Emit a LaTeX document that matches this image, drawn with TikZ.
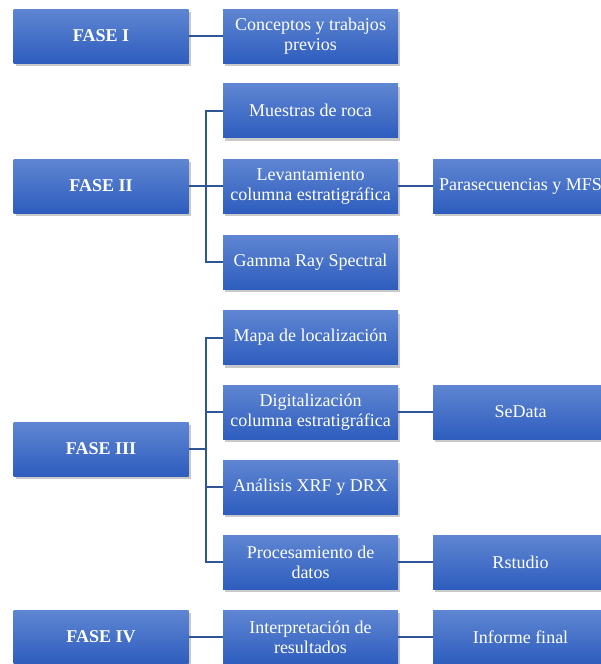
\documentclass[tikz,border=0pt]{standalone}
\usepackage{fontspec}
\setmainfont{Liberation Serif}
\usetikzlibrary{shadows}
\definecolor{btop}{HTML}{5F86D2}
\definecolor{bbot}{HTML}{2E5DBE}
\definecolor{lnk}{HTML}{2F5597}
\tikzset{
  box/.style={rectangle, minimum width=175pt, minimum height=54pt, inner sep=2pt,
    top color=btop, bottom color=bbot, draw=none, text=white, align=center,
    font=\fontsize{18}{20}\selectfont,
    drop shadow={shadow xshift=2pt, shadow yshift=-3pt, opacity=0.3, fill=black!70}},
  fase/.style={box, font=\fontsize{18}{20}\selectfont\bfseries},
  link/.style={draw=lnk, line width=2pt}
}
\begin{document}
\begin{tikzpicture}[x=1pt,y=-1pt]
\useasboundingbox (0,0) rectangle (600,664);
% FASE I
\node[fase] (f1) at (101,36) {FASE I};
\node[box] (c1) at (310.5,36) {Conceptos y trabajos\\previos};
% FASE II
\node[fase] (f2) at (101,186) {FASE II};
\node[box] (m2) at (310.5,110.5) {Muestras de roca};
\node[box] (l2) at (310.5,186) {Levantamiento\\columna estratigráfica};
\node[box] (p2) at (520.5,186) {\makebox[160pt][c]{Parasecuencias y MFS}};
\node[box] (g2) at (310.5,262) {Gamma Ray Spectral};
% FASE III
\node[fase] (f3) at (101,449) {FASE III};
\node[box] (a3) at (310.5,337.5) {Mapa de localización};
\node[box] (d3) at (310.5,412) {Digitalización\\columna estratigráfica};
\node[box] (s3) at (520.5,412) {SeData};
\node[box] (x3) at (310.5,487) {Análisis XRF y DRX};
\node[box] (r3) at (310.5,562) {Procesamiento de\\datos};
\node[box] (t3) at (520.5,562) {Rstudio};
% FASE IV
\node[fase] (f4) at (101,637) {FASE IV};
\node[box] (i4) at (310.5,637) {Interpretación de\\resultados};
\node[box] (n4) at (520.5,637) {Informe final};
% trunk junctions
\coordinate (j2) at (206,186);
\coordinate (j3) at (206,449);
% links
\draw[link] (f1.east) -- (c1.west);
\draw[link] (f2.east) -- (l2.west);
\draw[link] (m2.west) -| (j2) |- (g2.west);
\draw[link] (l2.east) -- (p2.west);
\draw[link] (f3.east) -- (j3);
\draw[link] (a3.west) -| (j3) |- (r3.west);
\draw[link] (j3 |- d3.west) -- (d3.west);
\draw[link] (j3 |- x3.west) -- (x3.west);
\draw[link] (d3.east) -- (s3.west);
\draw[link] (r3.east) -- (t3.west);
\draw[link] (f4.east) -- (i4.west);
\draw[link] (i4.east) -- (n4.west);
\end{tikzpicture}
\end{document}
